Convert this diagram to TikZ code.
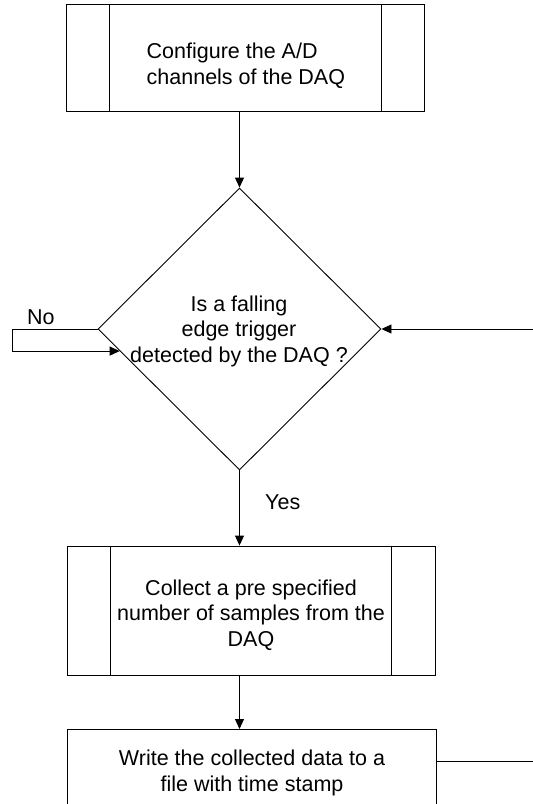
\documentclass[tikz,border=0pt]{standalone}
\usepackage{fontspec}
\setmainfont{Liberation Sans}
\usetikzlibrary{shapes.geometric,arrows.meta,calc}

\tikzset{
  flow/.style={draw=black, line width=0.9pt},
  procbox/.style={flow, rectangle, inner sep=0pt, fill=white},
  decbox/.style={flow, diamond, inner sep=0pt, fill=white},
  txt/.style={inner sep=0pt, font=\fontsize{21.5}{25.5}\selectfont},
  link/.style={flow, -{Triangle[length=10pt,width=9pt]}},
  wire/.style={flow}
}

\begin{document}
\begin{tikzpicture}[x=1pt, y=-1pt]
  \useasboundingbox (0,0) rectangle (533,804);
  \clip (0,0) rectangle (533,804);

  % predefined process: configure the A/D channels
  \node[procbox, minimum width=358pt, minimum height=107pt] (cfg) at (245,57.5) {};
  \draw[wire] ([xshift=44pt]cfg.north west) -- ([xshift=44pt]cfg.south west);
  \draw[wire] ([xshift=-43pt]cfg.north east) -- ([xshift=-43pt]cfg.south east);
  % multi-line text: the base anchor sits on the last line
  \node[txt, anchor=base west, align=left] (cfgtxt) at (146.5,84)
    {Configure the A/D\\channels of the DAQ};

  % decision: trigger detected?
  \node[decbox, minimum width=283pt, minimum height=282pt] (dec) at (239.5,329) {};
  \node[txt, anchor=base, align=center] (dectxt) at (239,362)
    {Is a falling\\edge trigger\\detected by the DAQ ?};

  % predefined process: collect samples
  \node[procbox, minimum width=368pt, minimum height=129pt] (col) at (251,610.5) {};
  \draw[wire] ([xshift=44pt]col.north west) -- ([xshift=44pt]col.south west);
  \draw[wire] ([xshift=-44pt]col.north east) -- ([xshift=-44pt]col.south east);
  \node[txt, anchor=base, align=center] (coltxt) at (251,646)
    {Collect a pre specified\\number of samples from the\\DAQ};

  % process: write data to file (continues below the page)
  \node[procbox, minimum width=369pt, minimum height=140pt, anchor=north] (wr) at (251.5,729) {};
  \node[txt, anchor=base, align=center] (wrtxt) at (252,791)
    {Write the collected data to a\\file with time stamp};

  % free ends of the loop-back connectors
  \coordinate (inR) at (533,329);
  \coordinate (outR) at (533,761);
  \coordinate (noL) at (12,329);
  \coordinate (noend) at ($(dec.west)!0.156!(dec.south)$);

  % connectors
  \draw[link] (cfg.south -| dec.north) -- (dec.north);
  \draw[link] (dec.south) -- (col.north -| dec.south);
  \draw[link] (col.south -| dec.south) -- (wr.north -| dec.south);
  \draw[link] (inR) -- (dec.east);
  \draw[link] (dec.west) -- (noL) |- (noend);
  \draw[wire] (wr.east |- outR) -- (outR);

  % branch labels
  \node[txt, anchor=base west] (yes) at (265,509) {Yes};
  \node[txt, anchor=base west] (no) at (27,324) {No};
\end{tikzpicture}
\end{document}
